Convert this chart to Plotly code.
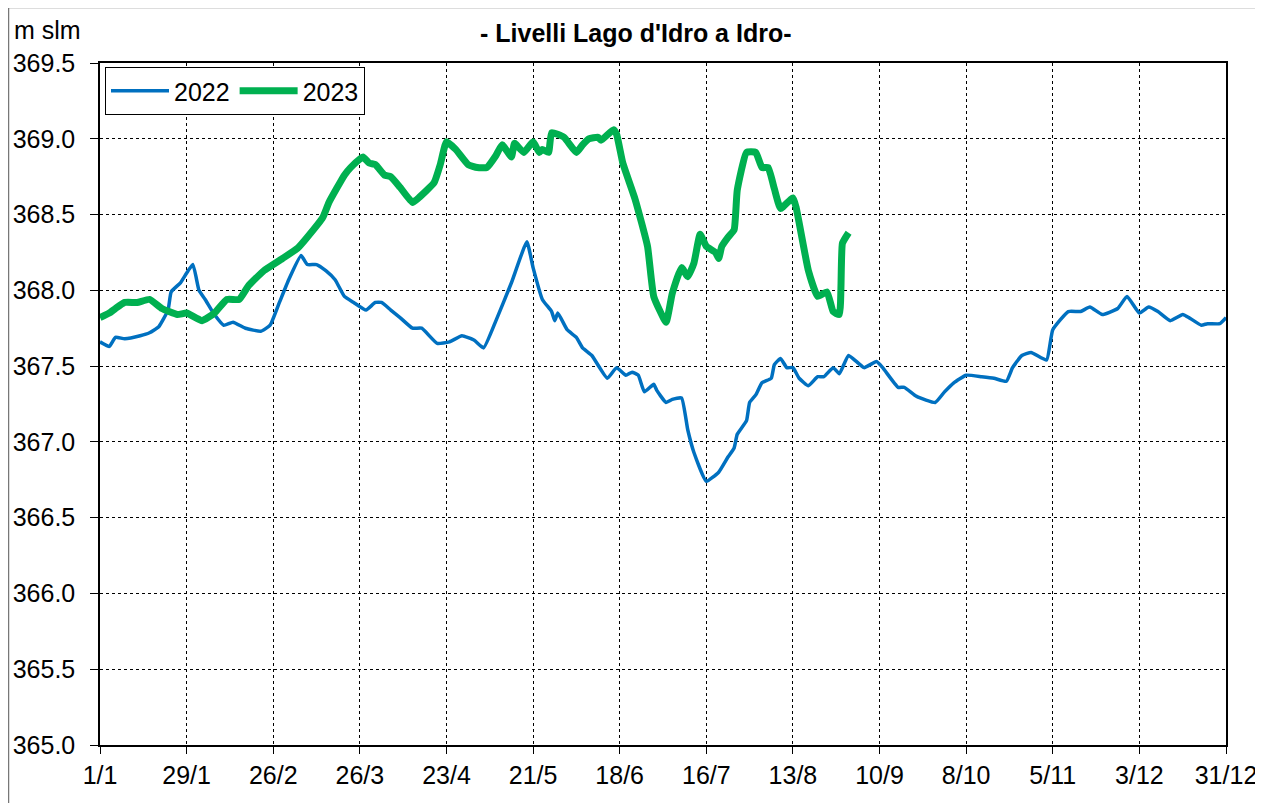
import plotly.graph_objects as go

# ---- data ----
days_2022 = [0, 3, 5, 8, 13, 16, 19, 22, 23, 26, 30, 32, 34, 37, 40, 43, 47, 52, 55, 58,
             61, 65, 67, 70, 73, 76, 79, 82, 86, 89, 91, 94, 97, 101, 104, 109, 113, 117,
             121, 124, 128, 133, 138, 140, 143, 146, 147, 148, 151, 154, 156, 159, 164,
             167, 170, 172, 174, 176, 179, 180, 183, 185, 188, 190, 192, 196, 200, 203,
             205, 206, 209, 210, 212, 214, 217, 218, 220, 222, 224, 226, 229, 232, 234,
             237, 239, 242, 247, 251, 253, 258, 260, 264, 270, 273, 276, 280, 285, 289,
             293, 295, 298, 301, 306, 308, 313, 317, 320, 324, 329, 332, 336, 339, 342,
             346, 350, 352, 356, 358, 362, 364]
level_2022 = [367.66, 367.63, 367.69, 367.68, 367.70, 367.72, 367.76, 367.87, 367.99, 368.05,
              368.17, 368.00, 367.94, 367.84, 367.77, 367.79, 367.75, 367.73, 367.77, 367.92,
              368.07, 368.23, 368.17, 368.17, 368.13, 368.07, 367.96, 367.92, 367.87, 367.92,
              367.92, 367.87, 367.82, 367.75, 367.75, 367.65, 367.66, 367.70, 367.67, 367.62,
              367.80, 368.05, 368.32, 368.15, 367.94, 367.86, 367.80, 367.85, 367.74, 367.69,
              367.62, 367.57, 367.42, 367.49, 367.44, 367.46, 367.44, 367.33, 367.38, 367.34,
              367.26, 367.28, 367.29, 367.08, 366.93, 366.74, 366.80, 366.90, 366.96, 367.05,
              367.14, 367.26, 367.31, 367.39, 367.42, 367.51, 367.55, 367.49, 367.49, 367.42,
              367.37, 367.43, 367.43, 367.49, 367.45, 367.57, 367.49, 367.53, 367.49, 367.36,
              367.36, 367.30, 367.26, 367.33, 367.39, 367.44, 367.43, 367.42, 367.40, 367.49,
              367.57, 367.59, 367.54, 367.74, 367.86, 367.86, 367.89, 367.84, 367.88, 367.96,
              367.85, 367.89, 367.86, 367.80, 367.84, 367.82, 367.77, 367.78, 367.78, 367.82]

days_2023 = [0, 3, 5, 8, 12, 16, 20, 25, 28, 33, 37, 41, 45, 48, 53, 59, 64, 67, 72, 74,
             79, 81, 85, 87, 89, 92, 94, 97, 101, 103, 108, 110, 112, 115, 119, 122, 125,
             128, 130, 133, 134, 137, 140, 142, 143, 145, 146, 150, 154, 156, 158, 161, 162,
             166, 167, 169, 173, 177, 179, 183, 185, 188, 190, 192, 194, 196, 199, 200, 201,
             203, 205, 206, 209, 212, 214, 216, 218, 220, 224, 225, 229, 232, 235, 237, 239,
             240, 242]
level_2023 = [367.82, 367.85, 367.88, 367.92, 367.92, 367.94, 367.88, 367.84, 367.85, 367.80,
              367.85, 367.94, 367.94, 368.03, 368.13, 368.21, 368.28, 368.35, 368.48, 368.58,
              368.76, 368.81, 368.88, 368.84, 368.83, 368.76, 368.75, 368.68, 368.58, 368.61,
              368.71, 368.83, 368.98, 368.93, 368.83, 368.81, 368.81, 368.89, 368.96, 368.88,
              368.97, 368.91, 368.98, 368.91, 368.93, 368.91, 369.04, 369.01, 368.91, 368.96,
              369.00, 369.01, 368.99, 369.06, 369.03, 368.84, 368.60, 368.29, 367.96, 367.79,
              367.98, 368.15, 368.09, 368.18, 368.37, 368.29, 368.25, 368.21, 368.29, 368.35,
              368.40, 368.66, 368.91, 368.91, 368.81, 368.81, 368.67, 368.54, 368.61, 368.55,
              368.13, 367.96, 367.99, 367.86, 367.84, 368.31, 368.38]

tick_days = [0, 28, 56, 84, 112, 140, 168, 196, 224, 252, 280, 308, 336, 364]
tick_labels = ["1/1", "29/1", "26/2", "26/3", "23/4", "21/5", "18/6", "16/7",
               "13/8", "10/9", "8/10", "5/11", "3/12", "31/12"]
y_ticks = [365.0, 365.5, 366.0, 366.5, 367.0, 367.5, 368.0, 368.5, 369.0, 369.5]

FONT = "Liberation Sans, Arial, sans-serif"

fig = go.Figure()
fig.add_trace(go.Scatter(x=days_2022, y=level_2022, mode="lines", name="2022",
                         line=dict(color="#0070C0", width=3.5, shape="spline", smoothing=0.4)))
fig.add_trace(go.Scatter(x=days_2023, y=level_2023, mode="lines", name="2023",
                         line=dict(color="#00B050", width=7, shape="spline", smoothing=0.4)))

# page has an 8px body margin; figure positions below are page pixels minus 8
OFF = 8
W, H = 1255, 795
L, T = 100 - OFF, 63 - OFF
pw, ph = 1126, 682
R, B = W - L - pw, H - T - ph

def px_x(x):
    return (x - OFF - L) / pw

def px_y(y):
    return (T + ph - (y - OFF)) / ph

fig.update_layout(
    width=W, height=H,
    margin=dict(l=L, r=R, t=T, b=B, autoexpand=False),
    paper_bgcolor="white", plot_bgcolor="white",
    font=dict(family=FONT, size=24, color="black"),
    showlegend=True,
    legend=dict(x=px_x(105), y=px_y(67), xanchor="left", yanchor="top",
                orientation="h", bordercolor="black", borderwidth=1,
                bgcolor="white", font=dict(size=25), itemwidth=58,
                tracegroupgap=0, itemsizing="trace"),
    xaxis=dict(range=[0, 364], tickmode="array", tickvals=tick_days, ticktext=tick_labels,
               showgrid=True, gridcolor="black", griddash="dot", gridwidth=1,
               showline=True, linecolor="black", linewidth=1.5, mirror=True,
               ticks="outside", ticklen=7, tickcolor="black", zeroline=False,
               automargin=False, tickfont=dict(size=25)),
    yaxis=dict(range=[365, 369.5], tickmode="array", tickvals=y_ticks,
               ticktext=[f"{v:.1f}" for v in y_ticks],
               showgrid=True, gridcolor="black", griddash="dot", gridwidth=1,
               showline=True, linecolor="black", linewidth=1.5, mirror=True,
               ticks="outside", ticklen=8, tickcolor="black", zeroline=False,
               automargin=False, ticklabelstandoff=10, tickfont=dict(size=25)),
)

fig.add_annotation(text="<b>- Livelli Lago d'Idro a Idro-</b>", xref="paper", yref="paper",
                   x=px_x(636), y=px_y(33), xanchor="center", yanchor="middle",
                   showarrow=False, font=dict(size=25, family=FONT))
fig.add_annotation(text="m slm", xref="paper", yref="paper",
                   x=px_x(12), y=px_y(30), xanchor="left", yanchor="middle",
                   showarrow=False, font=dict(size=25, family=FONT))

# outer frame (right/bottom edges are beyond the image)
fig.add_shape(type="rect", xref="paper", yref="paper",
              x0=px_x(8.5), y0=px_y(820), x1=px_x(1280), y1=px_y(7.5),
              line=dict(color="#777777", width=1.5), fillcolor="rgba(0,0,0,0)", layer="below")

fig.write_html("out.html")
